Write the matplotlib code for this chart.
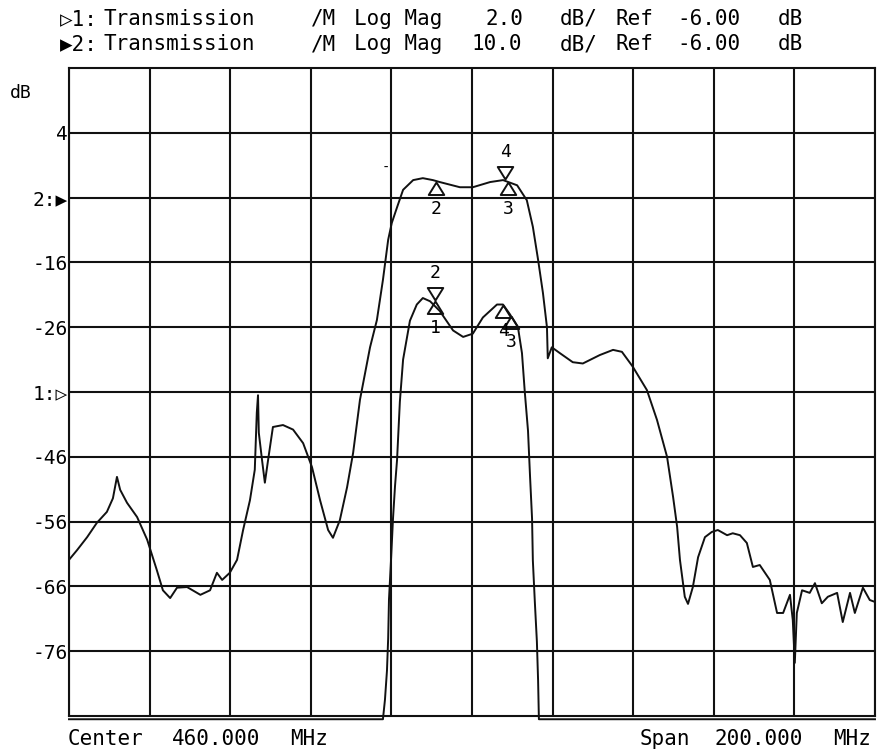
import numpy as np
import matplotlib.pyplot as plt

# network analyzer screen: center 460 MHz, span 200 MHz
f_start, f_stop = 360.0, 560.0

# trace 2 (10 dB/div, ref -6 dB)
freq_2 = [360.0, 362.0, 364.5, 366.9, 369.4, 370.9, 371.9, 372.7, 374.4, 376.9,
          379.4, 381.8, 383.3, 385.1, 386.8, 389.3, 392.6, 395.0, 396.7, 398.0,
          399.9, 401.7, 403.2, 404.9, 406.1, 406.6, 406.9, 407.1, 407.9, 408.6,
          409.4, 410.6, 413.1, 415.6, 418.1, 420.3, 422.3, 424.3, 425.5, 427.2,
          429.0, 430.5, 432.2, 434.7, 436.4, 437.9, 439.2, 440.1, 441.4, 442.9,
          445.4, 447.8, 450.3, 452.0, 457.0, 460.2, 464.5, 467.7, 471.2, 473.6,
          475.1, 476.4, 477.6, 478.6, 478.8, 479.8, 481.8, 485.0, 487.5, 491.7,
          495.0, 497.2, 499.9, 503.4, 505.9, 508.4, 509.9, 510.9, 511.6, 512.8,
          513.6, 514.8, 516.1, 517.8, 519.5, 521.0, 523.3, 524.7, 526.5, 528.2,
          529.7, 531.4, 533.9, 535.7, 537.2, 538.9, 539.6, 540.1, 540.6, 541.9,
          543.8, 545.1, 546.8, 548.3, 550.6, 552.0, 553.8, 555.0, 557.0, 558.7,
          560.0]
mag_2 = [-61.9, -60.4, -58.4, -56.2, -54.5, -52.4, -49.1, -51.1, -53.1, -55.3,
         -58.8, -63.5, -66.6, -67.8, -66.2, -66.1, -67.3, -66.6, -63.9, -65.0,
         -63.9, -61.9, -57.3, -52.7, -48.0, -39.2, -36.5, -42.3, -46.5, -50.0,
         -46.5, -41.4, -41.1, -41.8, -43.9, -47.6, -52.7, -57.3, -58.5, -55.8,
         -50.7, -45.4, -37.2, -29.1, -24.9, -18.7, -12.5, -9.9, -7.5, -4.8,
         -3.3, -3.0, -3.3, -3.6, -4.4, -4.4, -3.6, -3.3, -4.1, -6.4,
         -10.5, -15.6, -20.7, -26.0, -30.8, -29.1, -30.0, -31.4, -31.6, -30.3,
         -29.5, -29.8, -32.1, -35.7, -40.3, -46.0, -52.2, -56.8, -61.9, -67.6,
         -68.7, -66.1, -61.5, -58.4, -57.6, -57.3, -58.1, -57.8, -58.1, -59.3,
         -63.0, -62.7, -65.0, -70.1, -70.1, -67.3, -71.2, -77.8, -70.1, -66.6,
         -67.0, -65.5, -68.6, -67.6, -67.0, -71.5, -67.0, -70.1, -66.2, -68.1,
         -68.4]

# trace 1 (2 dB/div, ref -6 dB), clipped at the bottom of the screen
freq_1 = [360.0, 437.9, 438.4, 438.9, 439.2, 439.4, 439.9, 440.4, 440.9, 441.4,
          442.1, 442.9, 444.6, 446.3, 447.8, 449.6, 452.0, 455.3, 457.8, 460.2,
          462.7, 466.2, 467.7, 469.4, 471.4, 472.4, 473.1, 473.9, 474.4, 474.9,
          475.1, 475.6, 476.1, 476.4, 476.6, 560.0]
mag_1 = [-16.1, -16.1, -15.5, -14.6, -13.6, -12.4, -11.2, -9.9, -8.9, -8.1,
         -6.3, -5.0, -3.8, -3.3, -3.1, -3.2, -3.5, -4.1, -4.3, -4.2,
         -3.7, -3.3, -3.3, -3.6, -4.0, -4.8, -6.0, -7.2, -8.6, -9.9,
         -11.2, -12.5, -13.7, -14.9, -16.1, -16.1]

# markers: (label, freq, value, direction)
markers_2 = [('2', 451.1, -3.6, 'up'), ('4', 468.2, -3.1, 'down'), ('3', 468.9, -3.6, 'up')]
markers_1 = [('2', 450.8, -3.15, 'down'), ('1', 450.8, -3.2, 'up'),
             ('4', 467.7, -3.3, 'up'), ('3', 469.7, -3.65, 'up')]

y_tick_values = [4, -6, -16, -26, -36, -46, -56, -66, -76]
y_tick_labels = ['4', '2:\u25b6', '-16', '-26', '1:\u25b7', '-46', '-56', '-66', '-76']

W, H = 878, 753
MONO = ['DejaVu Sans Mono', 'DejaVu Sans']


def trace1_to_screen(v):
    # trace 1 ref line sits on the center graticule (-36 on the trace 2 scale)
    return -36 + (np.asarray(v) + 6) * 5


def px(x, y):
    return x / W, 1 - y / H


fig = plt.figure(figsize=(W / 100, H / 100), dpi=100)
fig.patch.set_facecolor('white')
ax = fig.add_axes([69 / W, 37 / H, 806 / W, 648 / H])

ax.set_xlim(f_start, f_stop)
ax.set_ylim(-86, 14)
ax.set_xticks(np.linspace(f_start, f_stop, 11))
ax.set_xticklabels([])
ax.set_yticks(y_tick_values)
ax.set_yticklabels(y_tick_labels, family=MONO, fontsize=14)
ax.tick_params(length=0, pad=1)
ax.grid(True, color='#111111', lw=1.5)
for s in ax.spines.values():
    s.set_linewidth(1.5)
    s.set_color('#111111')

ax.plot(freq_2, mag_2, color='#111111', lw=1.4)
ax.plot(freq_1, trace1_to_screen(mag_1), color='#111111', lw=1.4, clip_on=False)

up_tri = [(0, 0), (-0.62, -1), (0.62, -1), (0, 0)]
down_tri = [(0, 0), (-0.62, 1), (0.62, 1), (0, 0)]


def draw_markers(mlist, to_screen):
    for label, f, v, d in mlist:
        y = to_screen(v)
        ax.plot([f], [y], marker=up_tri if d == 'up' else down_tri, ms=18,
                mfc='none', mec='#111111', mew=1.4, ls='none')
        off = -2.7 if d == 'up' else 2.7
        va = 'top' if d == 'up' else 'bottom'
        ax.text(f, y + off, label, ha='center', va=va, family=MONO, fontsize=13)


draw_markers(markers_2, lambda v: v)
draw_markers(markers_1, trace1_to_screen)
ax.text(px(386, 168)[0], px(386, 168)[1], '-', transform=fig.transFigure,
        ha='center', va='center', family=MONO, fontsize=10)

# header lines, placed word by word to keep the wide pixel-font spacing
header_1 = [(60, '\u25b71:'), (104, 'Transmission'), (311, '/M'), (354, 'Log Mag'),
            (486, '2.0'), (560, 'dB/'), (616, 'Ref'), (677, '-6.00'), (778, 'dB')]
header_2 = [(60, '\u25b62:'), (104, 'Transmission'), (311, '/M'), (354, 'Log Mag'),
            (472, '10.0'), (560, 'dB/'), (616, 'Ref'), (677, '-6.00'), (778, 'dB')]
for row, y in ((header_1, 19), (header_2, 44)):
    for x, s in row:
        fig.text(*px(x, y), s, ha='left', va='center', family=MONO, fontsize=15)

fig.text(*px(10, 93), 'dB', ha='left', va='center', family=MONO, fontsize=13)

footer = [(68, 'Center'), (172, '460.000'), (290, 'MHz'),
          (640, 'Span'), (715, '200.000'), (833, 'MHz')]
for x, s in footer:
    fig.text(*px(x, 739), s, ha='left', va='center', family=MONO, fontsize=15)

fig.savefig('out.png', dpi=100, facecolor='white')
